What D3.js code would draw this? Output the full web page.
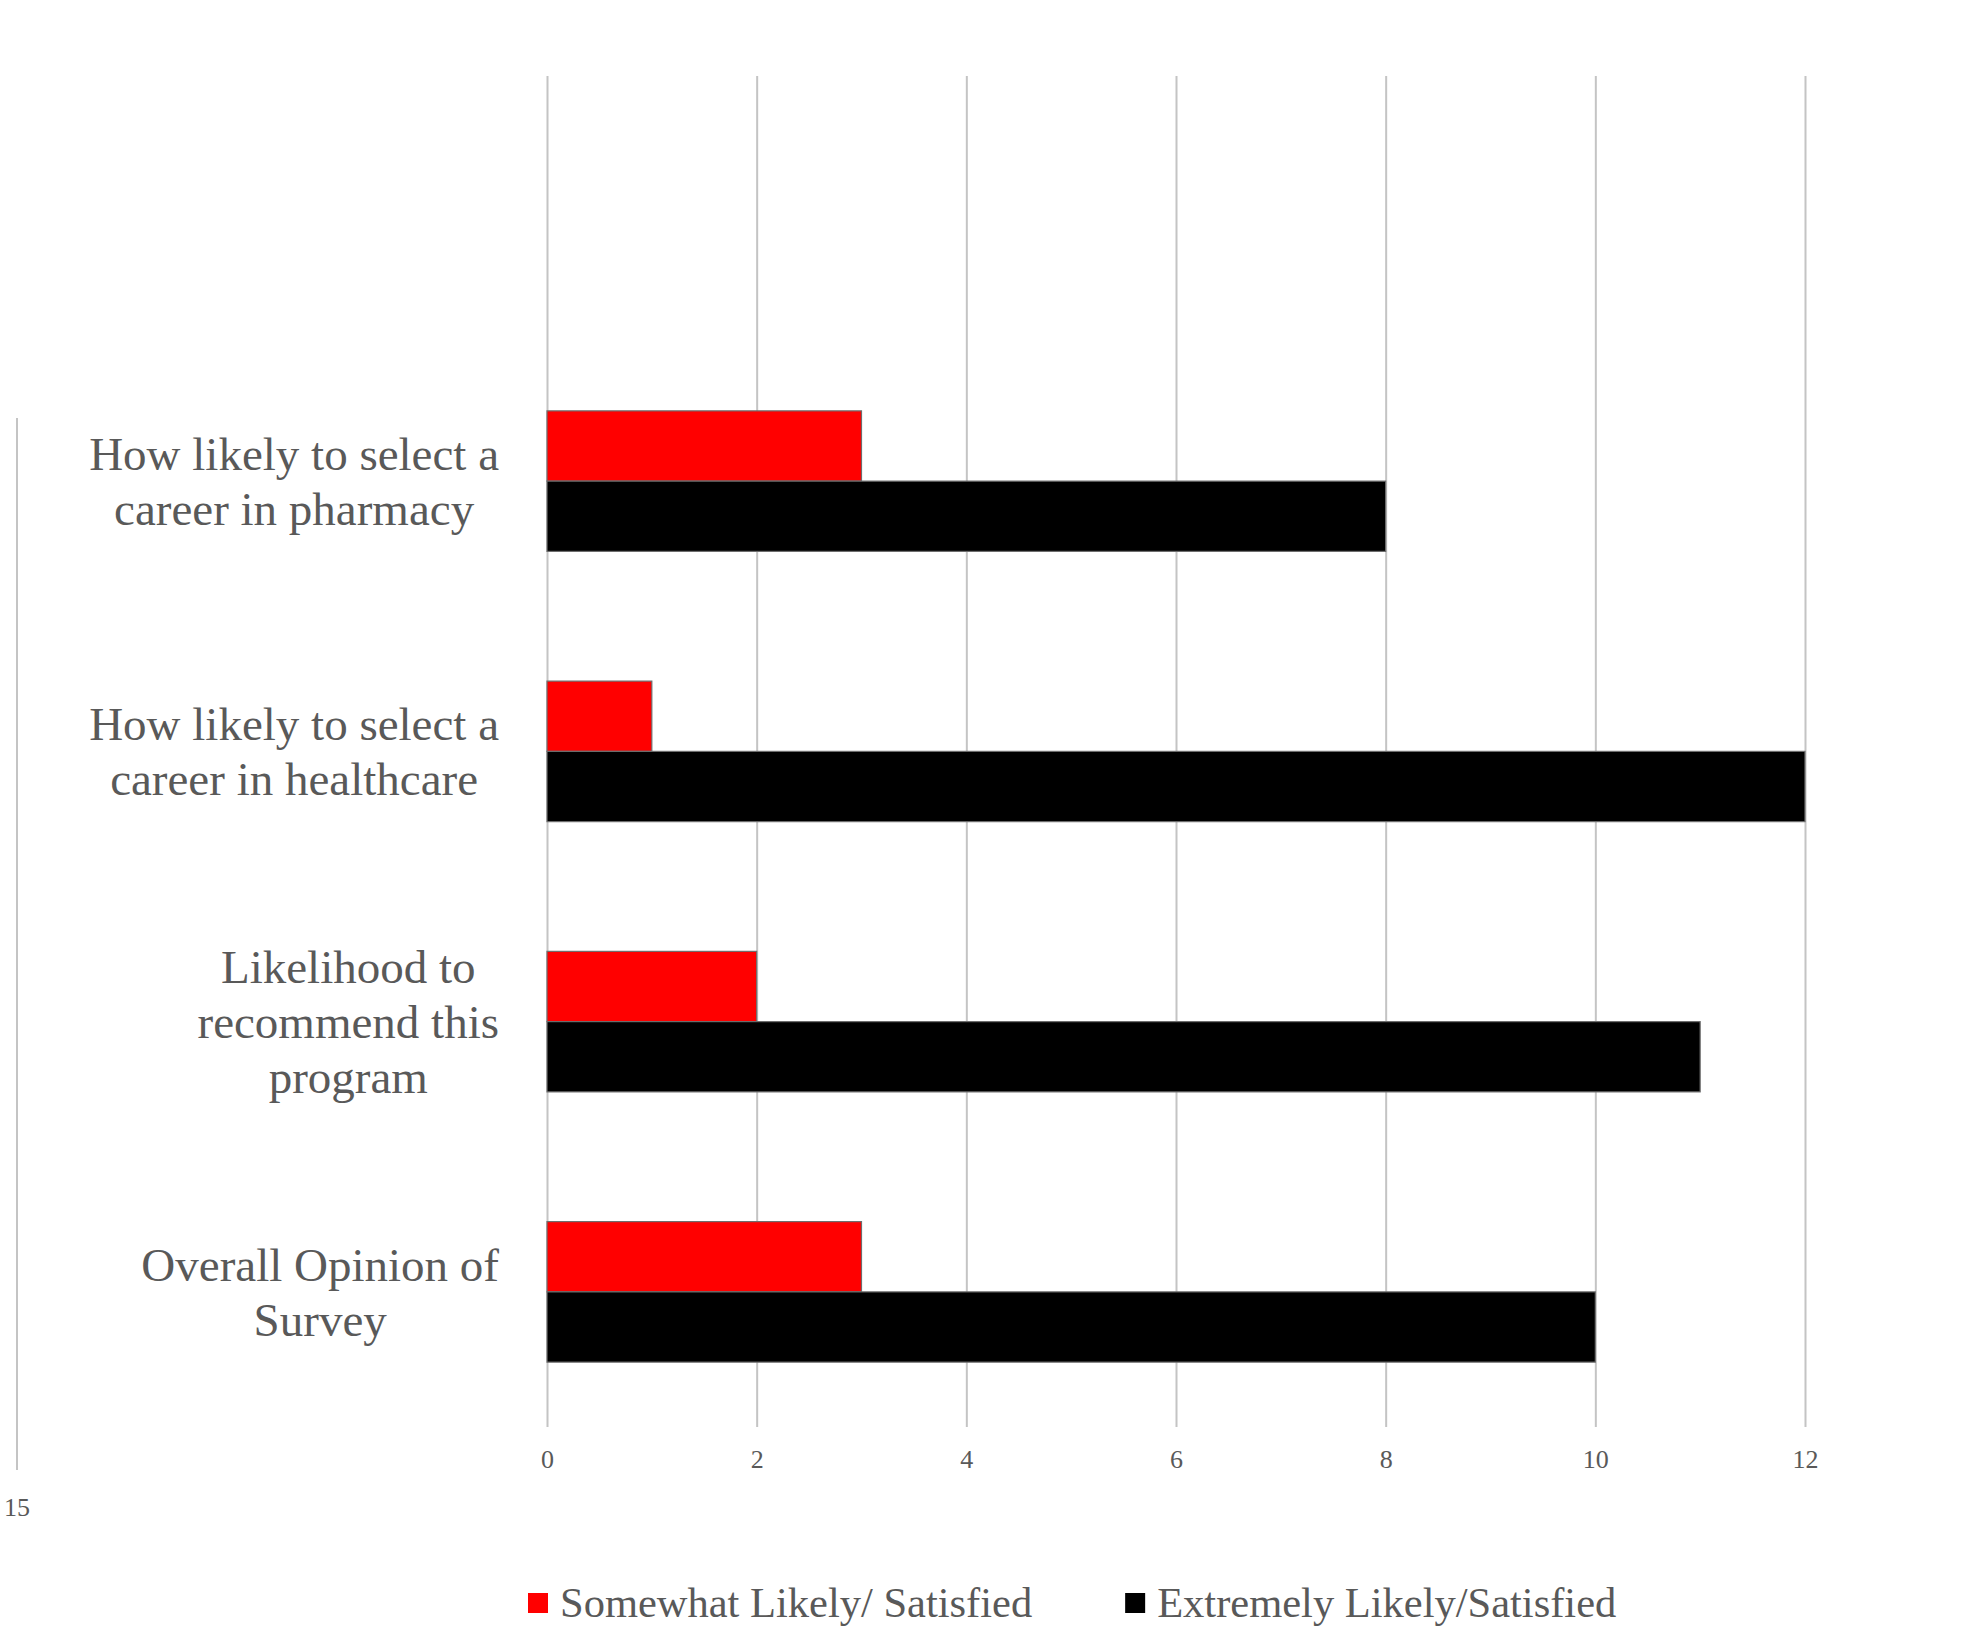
<!DOCTYPE html>
<html>
<head>
<meta charset="utf-8">
<script src="https://cdn.jsdelivr.net/npm/d3@7"></script>
<style>
  html, body { margin: 0; padding: 0; background: #ffffff; }
  svg { display: block; }
  text { font-family: "Liberation Serif", "Times New Roman", serif; fill: #595959; }
</style>
</head>
<body>
<svg id="chart" width="1968" height="1628"></svg>
<script>
// Survey questions (top to bottom) and their wrapped label lines
const categories = [
  "How likely to select a career in pharmacy",
  "How likely to select a career in healthcare",
  "Likelihood to recommend this program",
  "Overall Opinion of Survey"
];
const categoryLines = [
  ["How likely to select a", "career in pharmacy"],
  ["How likely to select a", "career in healthcare"],
  ["Likelihood to", "recommend this", "program"],
  ["Overall Opinion of", "Survey"]
];
const seriesNames = ["Somewhat Likely/ Satisfied", "Extremely Likely/Satisfied"];
const somewhatValues = [3, 1, 2, 3];
const extremelyValues = [8, 12, 11, 10];
const xTicks = [0, 2, 4, 6, 8, 10, 12];
const sideAxisLabel = "15";

const colors = ["#ff0000", "#000000"];

const svg = d3.select("#chart");

// Plot area
const plot = { left: 547, right: 1805, top: 76, bottom: 1427 };
const bandTop = 346; // first category band starts below an empty slot

const x = d3.scaleLinear().domain([0, 12]).range([plot.left, plot.right]);

const y = d3.scaleBand()
  .domain(categories)
  .range([bandTop, plot.bottom])
  .paddingInner(0.48)
  .paddingOuter(0.24);

const ySub = d3.scaleBand()
  .domain(seriesNames)
  .range([0, y.bandwidth()]);

// Vertical gridlines and tick labels
const axis = d3.axisBottom(x)
  .tickValues(xTicks)
  .tickFormat(d3.format("d"))
  .tickSizeInner(-(plot.bottom - plot.top))
  .tickSizeOuter(0)
  .tickPadding(23);

const gAxis = svg.append("g")
  .attr("transform", `translate(0,${plot.bottom})`)
  .call(axis);
gAxis.select(".domain").remove();
gAxis.selectAll(".tick line").attr("stroke", "#c4c4c4").attr("stroke-width", 2);
gAxis.selectAll(".tick text")
  .attr("font-family", "Liberation Serif, Times New Roman, serif")
  .attr("font-size", 26)
  .attr("fill", "#595959");

// Bars
const rows = categories.map((c, i) => ({
  category: c,
  values: [
    { series: seriesNames[0], value: somewhatValues[i], color: colors[0] },
    { series: seriesNames[1], value: extremelyValues[i], color: colors[1] }
  ]
}));

const groups = svg.append("g").selectAll("g")
  .data(rows)
  .join("g")
  .attr("transform", d => `translate(0,${y(d.category)})`);

groups.selectAll("rect")
  .data(d => d.values)
  .join("rect")
  .attr("x", x(0))
  .attr("y", d => ySub(d.series))
  .attr("width", d => x(d.value) - x(0))
  .attr("height", ySub.bandwidth())
  .attr("fill", d => d.color)
  .attr("stroke", "#6e6e6e")
  .attr("stroke-width", 1.2);

// Category labels: wrapped block right-aligned, lines centred within the block
const labelRight = 499;
const lineHeight = 55;
const labelG = svg.append("g");
categories.forEach((c, i) => {
  const lines = categoryLines[i];
  const cy = y(c) + y.bandwidth() / 2;
  const texts = lines.map((ln, j) =>
    labelG.append("text")
      .attr("font-size", 47)
      .attr("text-anchor", "middle")
      .attr("y", cy + (j - (lines.length - 1) / 2) * lineHeight)
      .attr("dy", "0.35em")
      .text(ln)
  );
  const maxW = d3.max(texts, t => t.node().getComputedTextLength());
  texts.forEach(t => t.attr("x", labelRight - maxW / 2));
});

// Side axis line with its lone label
svg.append("line")
  .attr("x1", 17).attr("x2", 17)
  .attr("y1", 418).attr("y2", 1470)
  .attr("stroke", "#c4c4c4").attr("stroke-width", 2);
svg.append("text")
  .attr("x", 17).attr("y", 1507)
  .attr("dy", "0.35em")
  .attr("text-anchor", "middle")
  .attr("font-size", 26)
  .text(sideAxisLabel);

// Legend
const legend = svg.append("g").attr("transform", "translate(0,1603)");
const sw = 20, textGap = 12, itemGap = 93;
let lx = 528;
seriesNames.forEach((name, i) => {
  const item = legend.append("g");
  item.append("rect")
    .attr("x", lx).attr("y", -sw / 2)
    .attr("width", sw).attr("height", sw)
    .attr("fill", colors[i]);
  const t = item.append("text")
    .attr("x", lx + sw + textGap)
    .attr("y", 0)
    .attr("dy", "0.33em")
    .attr("font-size", 42.5)
    .text(name);
  lx += sw + textGap + t.node().getComputedTextLength() + itemGap;
});
</script>
</body>
</html>
